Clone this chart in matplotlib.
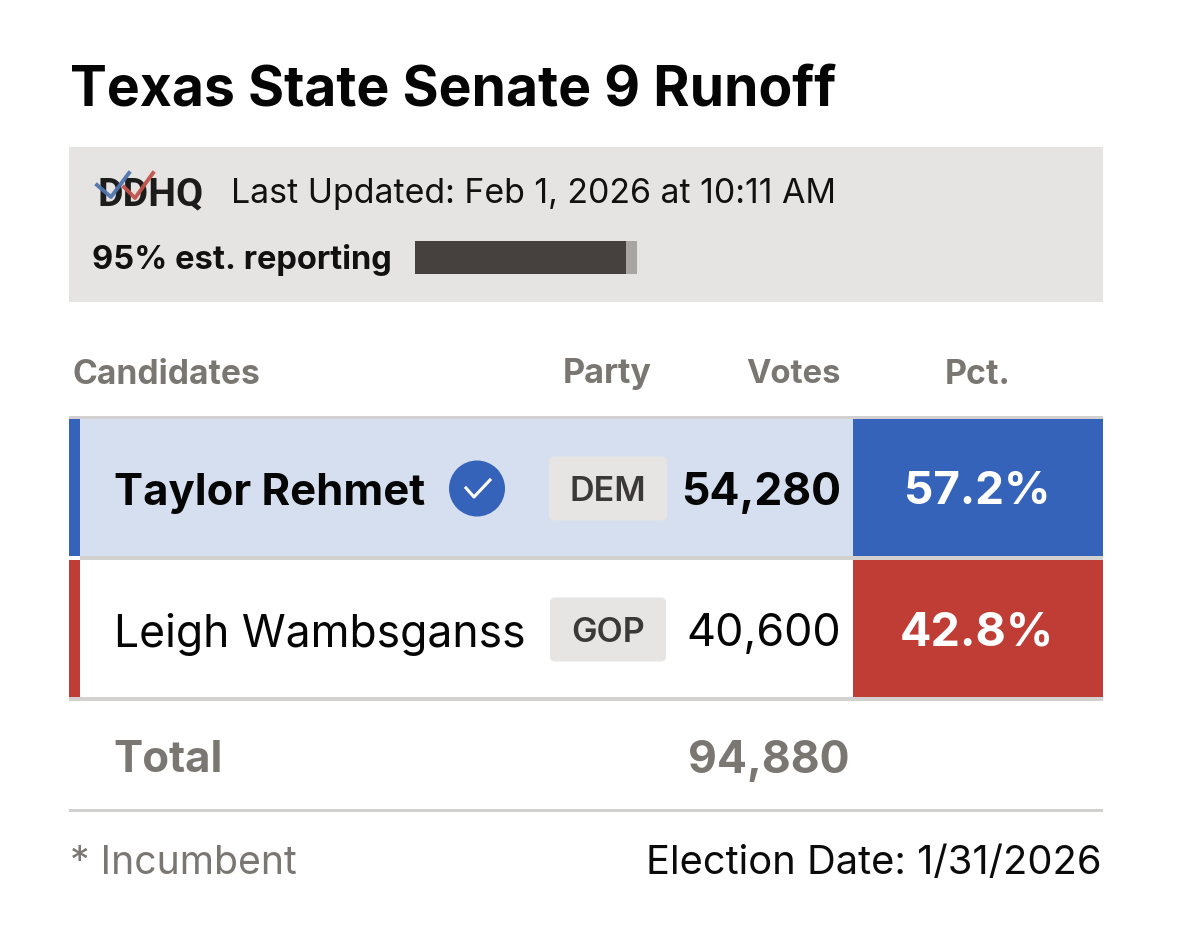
import matplotlib
matplotlib.use("Agg")
import matplotlib.pyplot as plt
from matplotlib.patches import Rectangle, FancyBboxPatch, Circle

plt.rcParams['font.family'] = ['Inter', 'DejaVu Sans']

title = "Texas State Senate 9 Runoff"
updated = "Last Updated: Feb 1, 2026 at 10:11 AM"
reporting_pct = 95
headers = ["Candidates", "Party", "Votes", "Pct."]
candidates = ["Taylor Rehmet", "Leigh Wambsganss"]
parties = ["DEM", "GOP"]
votes = [54280, 40600]
pcts = [57.2, 42.8]
total_votes = 94880
footer_left = "* Incumbent"
footer_right = "Election Date: 1/31/2026"

BLUE, RED = "#3563B9", "#C03D36"
GREY_TXT = "#7A7672"

fig = plt.figure(figsize=(12, 9.35), dpi=100, facecolor="white")
ax = fig.add_axes([0, 0, 1, 1])
ax.set_xlim(0, 1200)
ax.set_ylim(935, 0)
ax.axis("off")

def T(x, y, s, size, weight="normal", color="#0b0b0b", ha="left", z=5, family=None):
    ax.text(x, y, s, fontsize=size, fontweight=weight, color=color, ha=ha,
            va="center_baseline", zorder=z, family=family or ['Inter', 'DejaVu Sans'])

def R(x0, y0, x1, y1, color, z=1):
    ax.add_patch(Rectangle((x0, y0), x1 - x0, y1 - y0, fc=color, ec="none", zorder=z))

T(69.5, 85, title, 39.8, "bold", "#050505")

# header panel
R(69, 147, 1103, 302, "#E6E4E3")
T(98, 191, "DDHQ", 28.4, "bold", "#1c1c1c", z=2, family="Roboto")
ax.plot([97, 111, 129], [185, 197, 173], color="#4F74AE", lw=2.8, alpha=0.95, zorder=3)
ax.plot([124, 135, 153], [187, 198, 173], color="#C2544C", lw=2.8, alpha=0.95, zorder=3)
T(231, 190, updated, 24.4, "normal", "#111111")
T(92, 257, f"{reporting_pct}% est. reporting", 23.5, "bold", "#111111")
bar_l, bar_r = 415, 637
R(bar_l, 241, bar_r, 274, "#A8A4A1", 2)
R(bar_l, 241, bar_l + (bar_r - bar_l) * reporting_pct / 100, 274, "#46413E", 3)

# column heads
head_sizes = [24.2, 24.6, 23.6, 24.4]
for (x, ha), h, s in zip([(73, "left"), (607.5, "center"), (840.5, "right"), (977.5, "center")], headers, head_sizes):
    T(x, 371, h, s, "bold", GREY_TXT, ha)

# table rows
R(69, 416, 1103, 419.5, "#D3D1CF")
R(80, 419, 1103, 556, "#D5DFF0")
R(80, 556, 1103, 560, "#D3D1CF")
R(69, 697, 1103, 701, "#D3D1CF")
tops = [419, 560]
bottoms = [556, 697]
colors = [BLUE, RED]
badges = [(549, 667), (550, 666)]
name_sizes = [31.4, 32]
vote_sizes = [32, 32.4]
pct_sizes = [33, 33.6]
for i in range(2):
    top, bot, c = tops[i], bottoms[i], colors[i]
    mid = (top + bot) / 2 + 1
    R(69, top, 80, bot, c, 2)
    R(853, top, 1103, bot, c, 2)
    T(114, mid, candidates[i], name_sizes[i], "bold" if i == 0 else "normal", "#050505")
    bl, br = badges[i]
    ax.add_patch(FancyBboxPatch((bl + 4, mid - 28), br - bl - 8, 56,
                                boxstyle="round,pad=4,rounding_size=5",
                                fc="#E6E5E4", ec="none", zorder=2))
    T((bl + br) / 2, mid, parties[i], 24.5, "semibold", "#3b3836", "center")
    T(841, mid, f"{votes[i]:,}", vote_sizes[i], "bold" if i == 0 else "normal", "#050505", "right")
    T(977, mid - 1, f"{pcts[i]}%", pct_sizes[i], "bold", "white", "center")

# winner check
ax.add_patch(Circle((477, 488.5), 28, fc=BLUE, ec="none", zorder=3))
ax.plot([466, 474, 490], [488, 497, 480], color="white", lw=2.2, zorder=4)

# total
T(113.5, 756, "Total", 31.5, "bold", GREY_TXT)
T(849, 756, f"{total_votes:,}", 32, "bold", GREY_TXT, "right")
R(69, 809, 1103, 811.5, "#D3D1CF")

# footer
T(70, 860, footer_left, 28.2, "normal", GREY_TXT)
T(1101, 860, footer_right, 28.7, "normal", "#0b0b0b", "right")

fig.savefig("out.png", dpi=100, facecolor="white")
